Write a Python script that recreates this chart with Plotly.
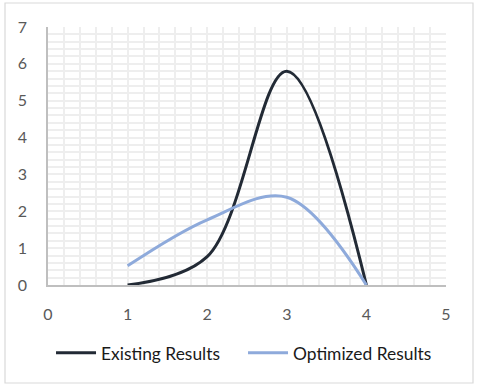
import plotly.graph_objects as go

x_vals = [1, 2, 3, 4]
existing = [0, 0.77, 5.8, 0]
optimized = [0.52, 1.77, 2.38, 0]
x_ticks = [0, 1, 2, 3, 4, 5]
y_ticks = [0, 1, 2, 3, 4, 5, 6, 7]

W, H = 479, 388
L, R, T, B = 48, 446, 27, 285
pw, ph = R - L, B - T

fig = go.Figure()
fig.add_trace(go.Scatter(x=x_vals, y=existing, mode="lines", name="Existing Results",
                         line=dict(color="#222a35", width=3, shape="spline", smoothing=1)))
fig.add_trace(go.Scatter(x=x_vals, y=optimized, mode="lines", name="Optimized Results",
                         line=dict(color="#8eaadb", width=3, shape="spline", smoothing=1)))

font = "Lato, 'Open Sans', sans-serif"
fig.update_layout(
    width=W, height=H,
    margin=dict(l=L, r=W - R, t=T, b=H - B, autoexpand=False),
    paper_bgcolor="white", plot_bgcolor="white",
    font=dict(family=font, color="#595959", size=16),
    showlegend=True,
    legend=dict(orientation="h", x=0.49, xanchor="center", y=(B - 353) / ph, yanchor="middle",
                font=dict(size=17.4, color="#1a1a1a"), itemwidth=40, tracegroupgap=0,
                entrywidth=137, entrywidthmode="pixels"),
    xaxis=dict(range=[0, 5], tickvals=x_ticks, showgrid=True, gridcolor="#eeeeee", gridwidth=1.5,
               minor=dict(dtick=0.2, showgrid=True, gridcolor="#eeeeee", gridwidth=1.5),
               showline=True, linecolor="#bfbfbf", linewidth=1.5, zeroline=False,
               ticks="", ticklabelstandoff=14, tickfont=dict(size=16, color="#595959")),
    yaxis=dict(range=[0, 7], tickvals=y_ticks, showgrid=True, gridcolor="#eeeeee", gridwidth=1.5,
               minor=dict(dtick=0.2, showgrid=True, gridcolor="#eeeeee", gridwidth=1.5),
               showline=True, linecolor="#bfbfbf", linewidth=1.5, zeroline=False,
               ticks="", ticklabelstandoff=16, tickfont=dict(size=16, color="#595959")),
    shapes=[dict(type="rect", xref="paper", yref="paper",
                 x0=(5 - L) / pw, x1=(473 - L) / pw, y0=(B - 383) / ph, y1=(B - 3) / ph,
                 line=dict(color="#d9d9d9", width=1.2), fillcolor="rgba(0,0,0,0)", layer="below")],
)

fig.write_html("out.html", config={"displayModeBar": False},
               post_script="document.body.style.margin='0';")
